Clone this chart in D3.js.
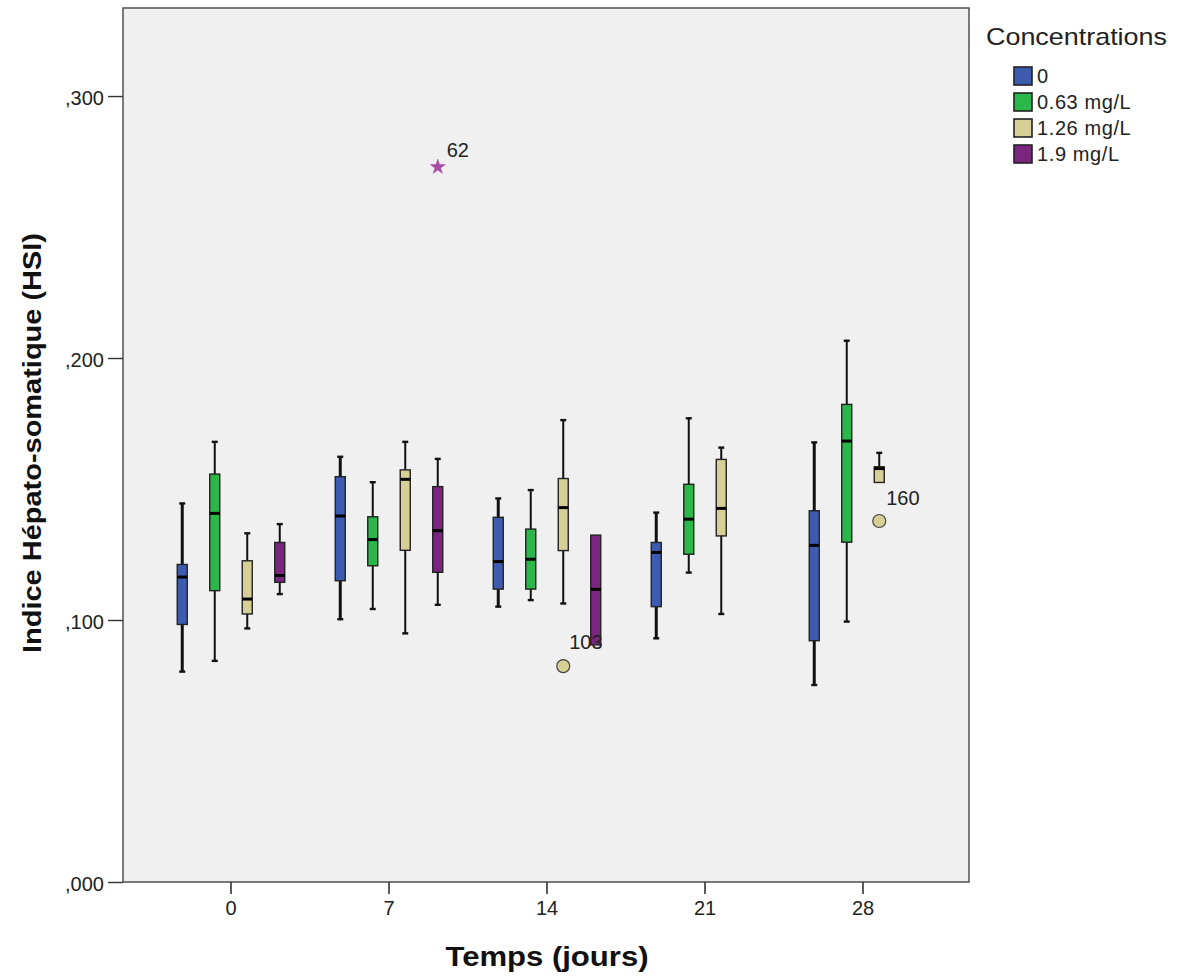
<!DOCTYPE html>
<html><head><meta charset="utf-8">
<script src="https://cdn.jsdelivr.net/npm/d3@7"></script>
<style>body{margin:0;background:#fff;font-family:"Liberation Sans",Arial,sans-serif;}</style>
</head><body><svg id="c" width="1179" height="978"></svg>
<script>
const days = ["0","7","14","21","28"];
const concentrations = ["0","0.63 mg/L","1.26 mg/L","1.9 mg/L"];
const colors = ["#3d5bb0","#2cb74a","#d6d097","#7a2580"];
const yTicks = [0, 0.1, 0.2, 0.3];
const yTickLabels = [",000", ",100", ",200", ",300"];
// [lower whisker, Q1, median, Q3, upper whisker] per day
const conc0   = [[0.0803,0.0983,0.1164,0.1212,0.1445],[0.1003,0.1150,0.1397,0.1547,0.1623],[0.1051,0.1118,0.1223,0.1392,0.1464],[0.0930,0.1051,0.1258,0.1296,0.1410],[0.0752,0.0921,0.1285,0.1417,0.1678]];
const conc063 = [[0.0844,0.1112,0.1407,0.1557,0.1680],[0.1042,0.1207,0.1307,0.1394,0.1526],[0.1076,0.1118,0.1232,0.1347,0.1496],[0.1181,0.1251,0.1385,0.1518,0.1770],[0.0994,0.1297,0.1683,0.1823,0.2066]];
const conc126 = [[0.0968,0.1023,0.1080,0.1226,0.1331],[0.0949,0.1266,0.1537,0.1573,0.1680],[0.1063,0.1265,0.1429,0.1540,0.1763],[0.1023,0.1321,0.1426,0.1613,0.1658],[0.1525,0.1525,0.1578,0.1585,0.1638]];
const conc19  = [[0.1099,0.1144,0.1170,0.1296,0.1366],[0.1058,0.1182,0.1341,0.1509,0.1615],[0.0905,0.0905,0.1117,0.1324,0.1324],null,null];
const seriesStats = [conc0, conc063, conc126, conc19];
const outlierDays = ["7","14","28"];
const outlierSeries = [3, 2, 2];
const outlierValues = [0.2729, 0.0824, 0.1378];
const outlierLabels = ["62","103","160"];
const outlierKinds = ["star","circle","circle"];

const FONT = "Liberation Sans, Arial, sans-serif";
const svg = d3.select("#c");
const L=123, R=969, T=8, B=882;
const y = d3.scaleLinear().domain([0,0.3336]).range([B,T]);
const x = d3.scaleBand().domain(days).range([152,942]);
const xi = d3.scaleBand().domain(d3.range(4)).range([-65,65]);

svg.append("rect").attr("x",L).attr("y",T).attr("width",R-L).attr("height",B-T)
  .attr("fill","#f0f0f0").attr("stroke","#444").attr("stroke-width",1.4);

// y axis
const ya = svg.append("g").attr("transform",`translate(${L},0)`)
  .call(d3.axisLeft(y).tickValues(yTicks).tickSize(15).tickFormat((d,i)=>yTickLabels[i]));
ya.select(".domain").remove();
ya.selectAll("line").attr("stroke","#333").attr("stroke-width",1.4);
ya.selectAll("text").attr("font-size",20).attr("fill","#222").attr("font-family",FONT).attr("dx",-1).attr("dy","0.4em");

// x axis
const xa = svg.append("g").attr("transform",`translate(0,${B})`)
  .call(d3.axisBottom(x).tickSize(12).tickSizeOuter(0));
xa.select(".domain").remove();
xa.selectAll("line").attr("stroke","#333").attr("stroke-width",1.6);
xa.selectAll("text").attr("font-size",20).attr("fill","#222").attr("font-family",FONT).attr("dy","0.92em");

const bw = 10, cap = 6;
seriesStats.forEach((arr, si) => {
  arr.forEach((s, di) => {
    if (!s) return;
    const cx = x(days[di]) + x.bandwidth()/2 + xi(si) + xi.bandwidth()/2;
    const g = svg.append("g");
    const lw = si===0 ? 3 : 2;
    if (s[4] > s[3]) {
      g.append("line").attr("x1",cx).attr("x2",cx).attr("y1",y(s[3])).attr("y2",y(s[4])).attr("stroke","#111").attr("stroke-width",lw);
      g.append("line").attr("x1",cx-cap/2).attr("x2",cx+cap/2).attr("y1",y(s[4])).attr("y2",y(s[4])).attr("stroke","#111").attr("stroke-width",2.4);
    }
    if (s[1] > s[0]) {
      g.append("line").attr("x1",cx).attr("x2",cx).attr("y1",y(s[0])).attr("y2",y(s[1])).attr("stroke","#111").attr("stroke-width",lw);
      g.append("line").attr("x1",cx-cap/2).attr("x2",cx+cap/2).attr("y1",y(s[0])).attr("y2",y(s[0])).attr("stroke","#111").attr("stroke-width",2.4);
    }
    g.append("rect").attr("x",cx-bw/2).attr("width",bw).attr("y",y(s[3])).attr("height",y(s[1])-y(s[3]))
      .attr("fill",colors[si]).attr("stroke","#222").attr("stroke-width",1.4);
    g.append("line").attr("x1",cx-bw/2).attr("x2",cx+bw/2).attr("y1",y(s[2])).attr("y2",y(s[2])).attr("stroke","#000").attr("stroke-width",3);
  });
});

// outliers
const labelOffsets = [[9,-10],[6,-17],[7,-16]];
outlierValues.forEach((v,i) => {
  const si = outlierSeries[i];
  const cx = x(outlierDays[i]) + x.bandwidth()/2 + xi(si) + xi.bandwidth()/2;
  const cy = y(v);
  if (outlierKinds[i]==="star") {
    svg.append("path").attr("d", d3.symbol().type(d3.symbolStar).size(70)()).attr("transform",`translate(${cx},${cy})`)
      .attr("fill","#a64aa6").attr("stroke","#a64aa6").attr("stroke-width",0.5);
  } else {
    svg.append("circle").attr("cx",cx).attr("cy",cy).attr("r",6.5).attr("fill",colors[si]).attr("stroke","#444").attr("stroke-width",1.2);
  }
  svg.append("text").attr("x",cx+labelOffsets[i][0]).attr("y",cy+labelOffsets[i][1]).text(outlierLabels[i])
    .attr("font-size",20).attr("fill","#222").attr("font-family",FONT);
});

// axis titles
svg.append("text").attr("transform",`translate(41,443) rotate(-90)`).attr("text-anchor","middle")
  .attr("font-size",25).attr("font-weight","bold").attr("fill","#111").attr("font-family",FONT)
  .attr("textLength",420).attr("lengthAdjust","spacingAndGlyphs").text("Indice Hépato-somatique (HSI)");
svg.append("text").attr("x",547).attr("y",966).attr("text-anchor","middle")
  .attr("font-size",28).attr("font-weight","bold").attr("fill","#111").attr("font-family",FONT)
  .attr("textLength",203).attr("lengthAdjust","spacingAndGlyphs").text("Temps (jours)");

// legend
svg.append("text").attr("x",986).attr("y",45).attr("font-size",24).attr("fill","#222").attr("font-family",FONT)
  .attr("textLength",181).attr("lengthAdjust","spacingAndGlyphs").text("Concentrations");
concentrations.forEach((c,i) => {
  const yy = 67 + i*26;
  svg.append("rect").attr("x",1014).attr("y",yy).attr("width",18).attr("height",18)
    .attr("fill",colors[i]).attr("stroke","#222").attr("stroke-width",1.6);
  svg.append("text").attr("x",1037).attr("y",yy+16).attr("font-size",20).attr("fill","#222")
    .attr("font-family",FONT).attr("letter-spacing",0.6).text(c);
});
</script></body></html>
